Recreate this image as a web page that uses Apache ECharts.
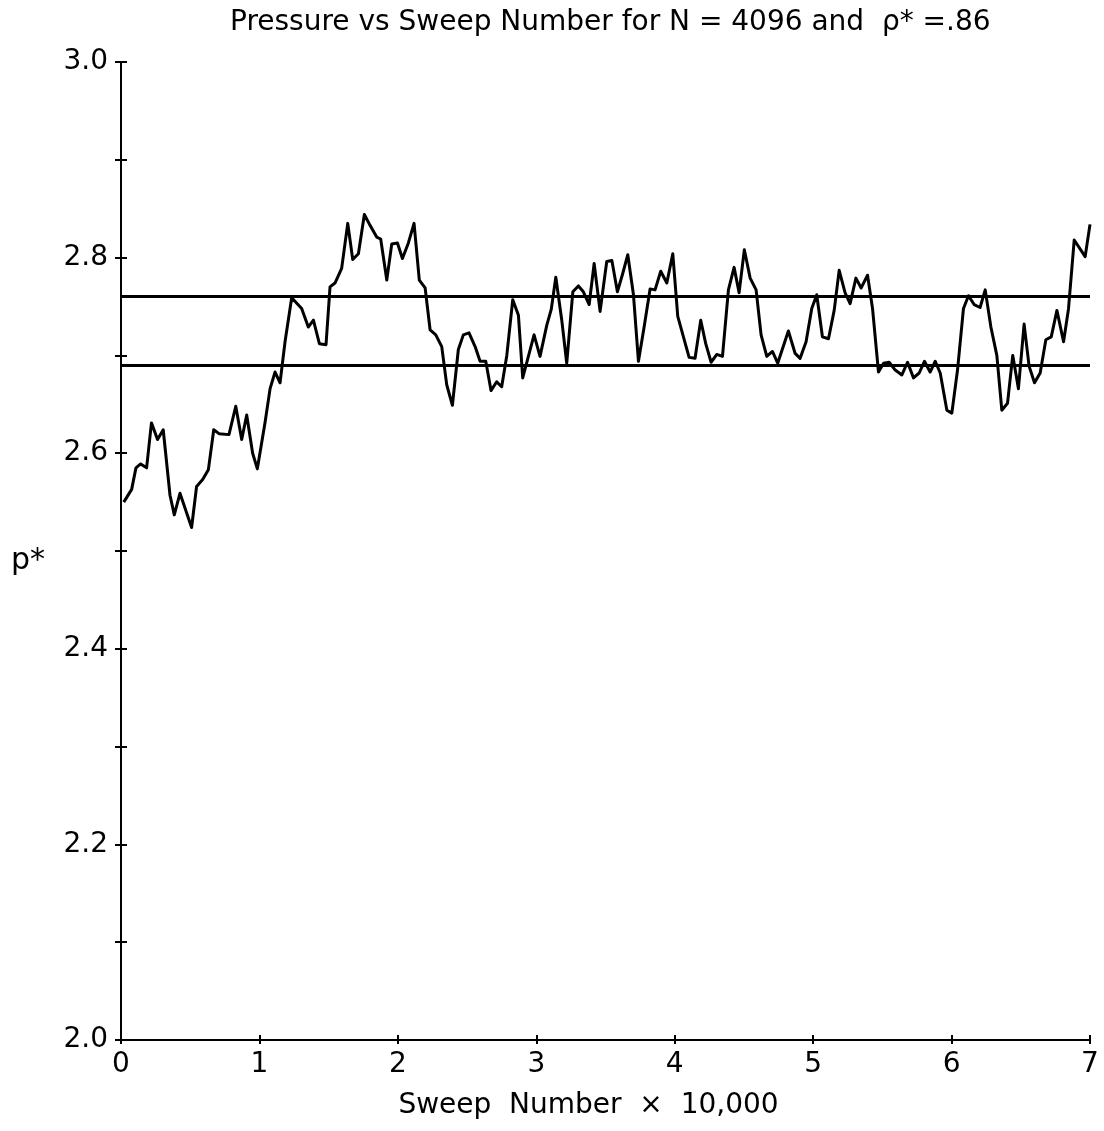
<!DOCTYPE html>
<html>
<head>
<meta charset="utf-8">
<title>Pressure vs Sweep Number</title>
<script src="https://cdn.jsdelivr.net/npm/echarts@6/dist/echarts.min.js"></script>
<style>
  html, body { margin: 0; padding: 0; background: #fff; }
  #chart { width: 1104px; height: 1131px; }
</style>
</head>
<body>
<div id="chart"></div>
<script>
// Sweep number in units of 10,000 sweeps
const sweeps = [
  0.02, 0.077, 0.108, 0.142, 0.185, 0.22, 0.264, 0.305, 0.354, 0.385,
  0.426, 0.51, 0.546, 0.59, 0.631, 0.67, 0.708, 0.78, 0.829, 0.872,
  0.908, 0.951, 0.985, 1.04, 1.077, 1.113, 1.149, 1.185, 1.233, 1.305,
  1.353, 1.39, 1.433, 1.481, 1.51, 1.546, 1.594, 1.638, 1.674, 1.715,
  1.758, 1.799, 1.847, 1.876, 1.92, 1.956, 1.997, 2.033, 2.076, 2.117,
  2.155, 2.197, 2.233, 2.274, 2.317, 2.353, 2.394, 2.437, 2.473, 2.514,
  2.558, 2.594, 2.635, 2.673, 2.714, 2.75, 2.787, 2.83, 2.871, 2.902,
  2.943, 2.984, 3.027, 3.076, 3.108, 3.141, 3.184, 3.22, 3.264, 3.304,
  3.34, 3.382, 3.418, 3.461, 3.509, 3.546, 3.586, 3.625, 3.661, 3.702,
  3.738, 3.779, 3.822, 3.858, 3.899, 3.943, 3.986, 4.022, 4.063, 4.104,
  4.147, 4.188, 4.224, 4.263, 4.304, 4.345, 4.388, 4.429, 4.465, 4.503,
  4.545, 4.588, 4.624, 4.665, 4.706, 4.744, 4.821, 4.87, 4.906, 4.949,
  4.99, 5.026, 5.067, 5.111, 5.152, 5.188, 5.231, 5.267, 5.309, 5.347,
  5.393, 5.429, 5.472, 5.509, 5.549, 5.593, 5.641, 5.682, 5.725, 5.766,
  5.804, 5.845, 5.882, 5.918, 5.966, 6.002, 6.043, 6.086, 6.122, 6.163,
  6.206, 6.243, 6.284, 6.327, 6.363, 6.404, 6.442, 6.483, 6.524, 6.56,
  6.599, 6.64, 6.681, 6.72, 6.761, 6.809, 6.845, 6.886, 6.965, 7.0
];

// Reduced pressure p* at each sweep
const pressure = [
  2.550, 2.563, 2.585, 2.589, 2.585, 2.631, 2.614, 2.624, 2.557, 2.537,
  2.559, 2.524, 2.566, 2.573, 2.583, 2.624, 2.620, 2.619, 2.648, 2.614,
  2.639, 2.600, 2.584, 2.631, 2.666, 2.683, 2.672, 2.714, 2.759, 2.748,
  2.729, 2.736, 2.712, 2.711, 2.770, 2.774, 2.789, 2.835, 2.798, 2.804,
  2.844, 2.833, 2.821, 2.819, 2.777, 2.814, 2.815, 2.799, 2.815, 2.835,
  2.777, 2.769, 2.726, 2.721, 2.709, 2.670, 2.649, 2.706, 2.721, 2.723,
  2.709, 2.694, 2.694, 2.664, 2.673, 2.668, 2.700, 2.757, 2.741, 2.677,
  2.699, 2.721, 2.699, 2.731, 2.747, 2.780, 2.736, 2.692, 2.765, 2.771,
  2.765, 2.752, 2.794, 2.745, 2.796, 2.797, 2.765, 2.784, 2.803, 2.762,
  2.694, 2.729, 2.768, 2.767, 2.786, 2.774, 2.804, 2.740, 2.719, 2.698,
  2.697, 2.736, 2.712, 2.693, 2.701, 2.699, 2.767, 2.790, 2.764, 2.808,
  2.779, 2.767, 2.721, 2.699, 2.704, 2.692, 2.725, 2.702, 2.697, 2.714,
  2.748, 2.762, 2.719, 2.717, 2.746, 2.787, 2.764, 2.753, 2.779, 2.769,
  2.782, 2.748, 2.683, 2.692, 2.693, 2.685, 2.680, 2.693, 2.677, 2.682,
  2.694, 2.683, 2.694, 2.682, 2.644, 2.641, 2.685, 2.748, 2.761, 2.752,
  2.749, 2.767, 2.729, 2.700, 2.644, 2.651, 2.700, 2.666, 2.732, 2.689,
  2.672, 2.682, 2.716, 2.719, 2.746, 2.714, 2.748, 2.818, 2.801, 2.834
];

// Two horizontal reference levels drawn across the whole run
const bandLevels = [2.759, 2.690];

const FONT = 'DejaVu Sans';
const INK = '#000';
const TITLE = 'Pressure vs Sweep Number for N = 4096 and  ρ* =.86';
const TITLE_SIZE = 28;

const GRID = { left: 121, right: 14, top: 62, bottom: 91 };
const CHART_W = 1104;

const points = sweeps.map((s, i) => [s, pressure[i]]);

// Centre the title over the plotting area rather than the whole canvas
const measureCtx = document.createElement('canvas').getContext('2d');
measureCtx.font = TITLE_SIZE + 'px "' + FONT + '"';
const titleWidth = measureCtx.measureText(TITLE).width;
const plotCentre = GRID.left + (CHART_W - GRID.left - GRID.right) / 2;

const baseX = {
  type: 'value', min: 0, max: 7, interval: 1, position: 'bottom',
  splitLine: { show: false }
};
const baseY = {
  type: 'value', min: 2.0, max: 3.0, interval: 0.1, position: 'left',
  splitLine: { show: false }
};

const chart = echarts.init(document.getElementById('chart'), null, { renderer: 'canvas' });

chart.setOption({
  backgroundColor: '#fff',
  animation: false,
  title: {
    text: TITLE,
    left: Math.round(plotCentre - titleWidth / 2),
    top: 4,
    padding: 5,
    textStyle: { fontFamily: FONT, fontSize: TITLE_SIZE, fontWeight: 'normal', color: INK }
  },
  grid: Object.assign({ containLabel: false }, GRID),
  xAxis: [
    Object.assign({}, baseX, {
      name: 'Sweep  Number  ×  10,000',
      nameLocation: 'middle',
      nameGap: 52,
      nameTextStyle: { fontFamily: FONT, fontSize: 28, color: INK, padding: [0, 34, 0, 0] },
      axisLine: { lineStyle: { color: INK, width: 2 } },
      axisTick: { length: 4, lineStyle: { color: INK, width: 2 } },
      axisLabel: { fontFamily: FONT, fontSize: 28, color: INK, margin: 11 }
    }),
    Object.assign({}, baseX, {
      axisLine: { show: false },
      axisTick: { inside: true, length: 5, lineStyle: { color: INK, width: 2 } },
      axisLabel: { show: false }
    })
  ],
  yAxis: [
    Object.assign({}, baseY, {
      name: 'p*',
      nameLocation: 'middle',
      nameRotate: 0,
      nameGap: 76,
      nameTextStyle: {
        fontFamily: FONT, fontSize: 30, color: INK,
        verticalAlign: 'top', lineHeight: 20
      },
      axisLine: { lineStyle: { color: INK, width: 2 } },
      axisTick: { length: 6, lineStyle: { color: INK, width: 2 } },
      axisLabel: {
        fontFamily: FONT, fontSize: 28, color: INK, margin: 13,
        formatter: v => (Math.round(v * 10) % 2 === 0 ? v.toFixed(1) : '')
      }
    }),
    Object.assign({}, baseY, {
      axisLine: { show: false },
      axisTick: { inside: true, length: 6, lineStyle: { color: INK, width: 2 } },
      axisLabel: { show: false }
    })
  ],
  series: [{
    type: 'line',
    xAxisIndex: 0,
    yAxisIndex: 0,
    data: points,
    showSymbol: false,
    lineStyle: { color: INK, width: 3, join: 'round' },
    markLine: {
      silent: true,
      symbol: 'none',
      label: { show: false },
      lineStyle: { color: INK, width: 3, type: 'solid' },
      data: bandLevels.map(v => ({ yAxis: v }))
    }
  }]
});
</script>
</body>
</html>
